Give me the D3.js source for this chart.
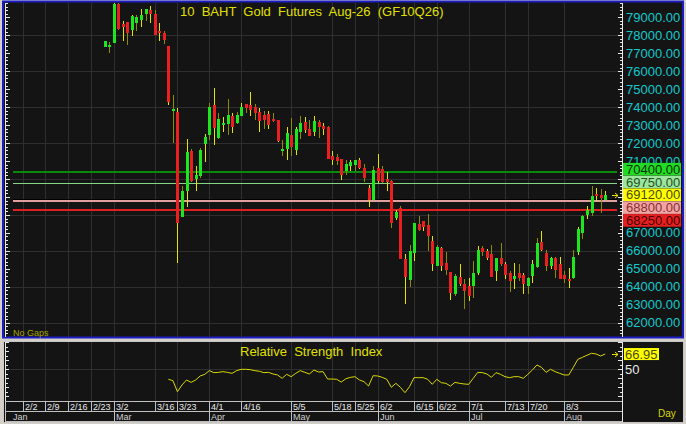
<!DOCTYPE html>
<html><head><meta charset="utf-8">
<script src="https://cdn.jsdelivr.net/npm/d3@7"></script>
<style>html,body{margin:0;padding:0;background:#d4d0c8;overflow:hidden}text{font-family:"Liberation Sans",Arial,sans-serif}</style>
</head><body><svg id="c" width="686" height="424"></svg>
<script>
// ---------------- DATA ----------------
const title = "10  BAHT  Gold  Futures  Aug-26  (GF10Q26)";
const rsiTitle = "Relative  Strength  Index";
const firstBarIndex = 18;          // trading-day index of the first candle
const opens  = [77370,77420,77590,79740,78630,78720,78290,78670,78850,79180,79410,79180,78240,78130,77410,73850,73740,67890,69310,71570,70020,70180,71960,72460,74130,
  72280,73030,73070,73520,73140,73480,74180,74130,73980,73720,73570,73630,73330,73260,71590,71680,72460,71630,72590,73180,72780,72590,73180,72960,72920,71290,71220,71130,
  70420,70740,70790,71070,70610,69500,68850,70610,70560,70000,69870,67830,68390,65570,64370,65890,67520,67640,67460,66570,65180,66170,65330,64830,63570,64530,64180,64030,
  64030,64780,66170,65980,65850,64870,65610,65290,64740,64410,64740,64630,64070,64590,65110,66480,65890,65140,65610,65240,64680,64440,64500,65920,67000,68020,68110,69180,69130,68850];
const highs  = [77700,77610,79800,79780,78810,78750,79130,79130,79440,79450,79630,79410,78670,78260,77410,74670,73960,69590,72220,71680,70740,71720,72500,74220,75090,
  73670,73440,74460,73670,73720,74220,74200,74830,74200,73950,73810,73760,73700,73300,72180,72870,73390,72920,73480,73440,73260,73480,73290,73140,72950,71530,71410,71130,
  71070,71070,71070,71170,70850,69640,70700,71390,70740,70390,69920,68260,68480,65850,66350,67560,67960,67640,68070,66810,66300,66220,65920,64850,64700,65290,64440,64500,
  65420,66290,66290,66110,66350,65610,66410,65370,64870,65330,65290,64780,64560,65480,66720,67090,66030,65670,65670,65670,64870,65060,66070,67330,68020,68520,69590,69500,69440,69310];
const lows   = [77350,77000,77590,78300,77700,77460,77960,78260,78440,78810,78700,78020,77700,77520,74140,72000,65330,67890,68440,69810,69310,70060,70920,72180,71910,
  72220,72640,72460,72560,73070,73480,73700,73500,73300,72640,72780,72780,73180,72050,71290,71070,71290,71330,72220,72560,72370,72370,72280,72460,71100,70790,70790,69960,
  70200,70420,70420,70570,69810,68440,68810,69780,69780,69310,67280,67740,65560,63020,64000,65460,67090,67090,65980,64870,65150,64870,64680,63260,63500,64030,62740,63200,
  63380,64680,65740,65480,64560,64310,65140,64410,63700,63890,64310,63610,63570,64220,65020,65980,64870,64990,64500,64410,64220,63940,64410,65790,66670,67780,67960,68760,68110,68850];
const closes = [77670,77450,79750,78370,78480,78110,79090,79030,79130,79440,79180,78020,78130,77740,74290,73880,67560,69310,71480,69870,70200,71630,72330,73980,72830,
  73330,73140,73570,72890,73570,74030,73940,73850,73700,73200,73290,73000,73260,72090,71680,72560,71760,72780,73110,72700,72370,73200,72920,72780,71130,71030,71020,70240,
  70850,70940,71070,70610,70060,68850,70520,69870,69810,69810,67560,68140,65570,64560,65980,67560,67180,67330,66810,65240,66220,65140,64960,63670,64590,64130,63760,63480,
  64780,66020,65920,65610,64560,65610,65240,64680,64310,64590,64500,64130,64500,65280,66410,66070,65180,65610,64960,64440,64410,64330,65670,67220,67960,68260,69070,69030,68940,69120];
const firstRsiIndex = 32;
const rsiValues = [38.9,37.4,25.1,32.6,38.1,35.5,38.1,42.6,44.4,48.5,46.3,46.6,47.4,46.6,45.5,48.5,50,50,49.6,48.5,47.8,46.3,46.6,44.8,43.7,40,44.4,41.8,45.5,48.5,
  46.6,44.8,49.2,47,47.4,39.2,39.2,38.9,35.8,39.5,41,41.8,38.1,36.3,31.4,42.9,42.6,41.1,38.9,30,34.4,30,24,30.7,40.7,40.7,40.7,38.9,33.3,38.9,35.1,34.4,31.4,35.5,34.4,33.7,33.3,
  40,46.6,46.3,44.8,41.1,46.3,44.4,41.8,40.7,41.8,41.8,40,44.4,49.2,54.8,52.2,46.6,50,47.4,45.5,43.7,43.7,52.2,61.1,63.3,65.6,67.8,67,64.8,66.95];
const rsiLast = "66.95";
const weekTickLabels = ["2/2","2/9","2/16","2/23","3/2","3/16","3/23","4/1","4/16","5/5","5/18","5/25","6/2","6/15","6/22","7/1","7/13","7/20","8/3"];
const weekTickIndex  = [0,5,10,15,20,29,34,41,48,59,68,73,78,86,91,98,106,111,119];
const monthLabels = ["Jan","Mar","Apr","May","Jun","Jul","Aug"];
const monthIndex  = [-3.9,20,41,59,78,98,119];
const priceTicks = [62000,63000,64000,65000,66000,67000,68000,69000,70000,71000,72000,73000,74000,75000,76000,77000,78000,79000];
const levelValues = [70400,69750,69120,68800,68250];
const levelNames  = ["green","lightgreen","last","pink","red"];

// ---------------- DRAW ----------------
const svg = d3.select("#c");
const L = 5, R = 622, T = 3, B = 337;
const x = d3.scaleLinear().domain([-3.9, 131.7]).range([L, R]);
const y = d3.scaleLinear().domain([62000, 79000]).range([322.7, 17.3]);
const ry = d3.scaleLinear().domain([14, 80]).range([401.7, 342.3]);
const px = i => Math.round(x(i)) + 0.5;

// panels
svg.append("rect").attr("x",0).attr("y",0).attr("width",686).attr("height",424).attr("fill","#d4d0c8");
svg.append("rect").attr("x",3).attr("y",1.5).attr("width",680).attr("height",336).attr("fill","#141414").attr("stroke","#1c1cc4").attr("stroke-width",2);
svg.append("rect").attr("x",3.5).attr("y",341.5).attr("width",680).attr("height",81).attr("fill","#141414").attr("stroke","#c8c8c8").attr("stroke-width",1);

svg.append("defs").append("clipPath").attr("id","pc").append("rect").attr("x",L).attr("y",T).attr("width",R-L).attr("height",B-T);

const grid = "#2f2f2f";
const gv = svg.append("g").attr("shape-rendering","crispEdges");
weekTickIndex.forEach(i=>{
  gv.append("line").attr("x1",px(i)).attr("x2",px(i)).attr("y1",T).attr("y2",B).attr("stroke",grid);
  gv.append("line").attr("x1",px(i)).attr("x2",px(i)).attr("y1",342).attr("y2",401).attr("stroke",grid);
});
priceTicks.filter(v=>v%2000===0).forEach(v=>{
  gv.append("line").attr("x1",L).attr("x2",R).attr("y1",Math.round(y(v))+0.5).attr("y2",Math.round(y(v))+0.5).attr("stroke",grid);
});
gv.append("line").attr("x1",L).attr("x2",R).attr("y1",Math.round(ry(50))+0.5).attr("y2",Math.round(ry(50))+0.5).attr("stroke",grid);

// level lines
const lv = svg.append("g").attr("shape-rendering","crispEdges");
const lineX1 = 13, lineX2 = 617;
function hline(v, col, w, dy){ const yy = Math.round(y(v)) + (dy||0);
  lv.append("line").attr("x1",lineX1).attr("x2",lineX2).attr("y1",yy).attr("y2",yy).attr("stroke",col).attr("stroke-width",w); }
hline(levelValues[0], "#0a8a0a", 2);
hline(levelValues[1], "#86d486", 1, 0.5);
hline(levelValues[3], "#000000", 1, -1.5);
hline(levelValues[3], "#e0a0a0", 2);
hline(levelValues[4], "#e02020", 2);

// candles
const cg = svg.append("g").attr("clip-path","url(#pc)").attr("shape-rendering","crispEdges");
const bars = opens.map((o,k)=>({i:firstBarIndex+k,o,h:highs[k],l:lows[k],c:closes[k]}));
cg.selectAll("line.w").data(bars).join("line").attr("class","w")
  .attr("x1",d=>px(d.i)).attr("x2",d=>px(d.i))
  .attr("y1",d=>y(d.h)).attr("y2",d=>y(d.l))
  .attr("stroke",d=>d.i%2===0?"#e4e400":"#8c8c00").attr("stroke-width",1);
cg.selectAll("rect.b").data(bars).join("rect").attr("class","b")
  .attr("x",d=>Math.round(x(d.i))-1).attr("width",3)
  .attr("y",d=>Math.min(y(d.o),y(d.c)))
  .attr("height",d=>Math.max(2,Math.abs(y(d.o)-y(d.c))))
  .attr("fill",d=>d.c>=d.o?"#1ee61e":"#ea2020");

// axes
const ax = svg.append("g").attr("shape-rendering","crispEdges").attr("stroke","#e8e8e8");
ax.append("line").attr("x1",5.5).attr("x2",5.5).attr("y1",T).attr("y2",B);
ax.append("line").attr("x1",R+0.5).attr("x2",R+0.5).attr("y1",T).attr("y2",B);
d3.range(61400, 79801, 200).forEach(v=>{
  const yy = Math.round(y(v))+0.5, major = v%1000===0;
  ax.append("line").attr("x1",6).attr("x2",major?10:8).attr("y1",yy).attr("y2",yy);
  ax.append("line").attr("x1",R).attr("x2",major?R-4:R-2).attr("y1",yy).attr("y2",yy);
});
ax.append("line").attr("x1",5.5).attr("x2",5.5).attr("y1",342).attr("y2",402);
ax.append("line").attr("x1",R+0.5).attr("x2",R+0.5).attr("y1",342).attr("y2",422);
d3.range(15, 81, 5).forEach(v=>{
  const yy = Math.round(ry(v))+0.5, major = v%10===0;
  ax.append("line").attr("x1",6).attr("x2",major?9:8).attr("y1",yy).attr("y2",yy);
  ax.append("line").attr("x1",R).attr("x2",major?R-4:R-2).attr("y1",yy).attr("y2",yy);
});

// level boxes positions (overlap resolution around the last price)
const lastPos = levelNames.indexOf("last");
const cy = levelValues.map(v=>y(v));
const gap = 12.8;
for(let k=lastPos-1;k>=0;k--) cy[k] = Math.min(cy[k], cy[k+1]-gap);
for(let k=lastPos+1;k<cy.length;k++) cy[k] = Math.max(cy[k], cy[k-1]+gap);

// price labels (those hidden behind the level boxes are skipped)
const cyan = "#14c8cc";
const visibleTicks = priceTicks.filter(v=>cy.every(c=>Math.abs(y(v)-c) >= 7.5));
svg.append("g").selectAll("text").data(visibleTicks).join("text")
  .attr("x",626).attr("y",v=>y(v)+4.6).attr("fill",cyan).attr("font-size",13).text(v=>d3.format(".2f")(v));

const boxStyle = {
  green:{bg:"#22dc22",fg:"#063006"}, lightgreen:{bg:"#9ae69a",fg:"#2a502a"},
  last:{bg:"#ffff00",fg:"#4a4a00"}, pink:{bg:"#f2a4a4",fg:"#883030"}, red:{bg:"#e42020",fg:"#4a0000"}
};
const bx = svg.append("g");
levelValues.forEach((v,k)=>{
  const st = boxStyle[levelNames[k]];
  bx.append("rect").attr("x",623).attr("y",cy[k]-6.3).attr("width",58).attr("height",12.6).attr("fill",st.bg);
  bx.append("text").attr("x",626).attr("y",cy[k]+4.6).attr("fill",st.fg).attr("font-size",13).text(d3.format(".2f")(v));
});
function arrow(yy){
  const g = svg.append("g").attr("stroke","#e4e400").attr("fill","none").attr("stroke-width",1);
  g.append("line").attr("x1",612).attr("x2",618).attr("y1",yy).attr("y2",yy);
  g.append("path").attr("d",`M615,${yy-2.5} L618,${yy} L615,${yy+2.5}`);
}
arrow(Math.round(y(closes[closes.length-1]))+0.5);

// titles
svg.append("text").attr("x",180).attr("y",15.5).attr("fill","#e0e000").attr("font-size",13)
  .style("white-space","pre").text(title);
svg.append("text").attr("x",13).attr("y",336).attr("fill","#a4a400").attr("font-size",9).text("No Gaps");

// RSI
const rsiData = rsiValues.map((v,k)=>({i:firstRsiIndex+k,v}));
svg.append("path").datum(rsiData).attr("fill","none").attr("stroke","#d8d800").attr("stroke-width",1)
  .attr("d", d3.line().x(d=>x(d.i)).y(d=>ry(d.v)));
svg.append("text").attr("x",240).attr("y",356).attr("fill","#e0e000").attr("font-size",13)
  .style("white-space","pre").text(rsiTitle);
svg.append("text").attr("x",625).attr("y",374).attr("fill","#e8e8e8").attr("font-size",13).text("50");
const rl = ry(rsiValues[rsiValues.length-1]);
svg.append("rect").attr("x",624).attr("y",rl-6).attr("width",35).attr("height",12).attr("fill","#ffff00");
svg.append("text").attr("x",625).attr("y",rl+4.5).attr("fill","#4a4a00").attr("font-size",13).text(rsiLast);
arrow(Math.round(rl)+0.5);

// date axis
const da = svg.append("g").attr("shape-rendering","crispEdges").attr("stroke","#c0c0c0");
[401.5, 411.5, 421.5].forEach(yy=>da.append("line").attr("x1",L).attr("x2",R).attr("y1",yy).attr("y2",yy));
da.append("line").attr("x1",5.5).attr("x2",5.5).attr("y1",401).attr("y2",422);
weekTickIndex.forEach(i=>da.append("line").attr("x1",px(i)).attr("x2",px(i)).attr("y1",401).attr("y2",412));
monthIndex.forEach(i=>{ if(x(i)>7) da.append("line").attr("x1",px(i)).attr("x2",px(i)).attr("y1",411).attr("y2",422); });
svg.append("g").selectAll("text").data(weekTickLabels).join("text")
  .attr("x",(d,k)=>px(weekTickIndex[k])+1.5).attr("y",410).attr("fill","#e8e8e8").attr("font-size",9).text(d=>d);
svg.append("g").selectAll("text").data(monthLabels).join("text")
  .attr("x",(d,k)=>Math.max(13, px(monthIndex[k])+1.5)).attr("y",420).attr("fill","#d0d0d0").attr("font-size",9).text(d=>d);
svg.append("text").attr("x",658).attr("y",417).attr("fill","#d8d800").attr("font-size",10).text("Day");
</script></body></html>
